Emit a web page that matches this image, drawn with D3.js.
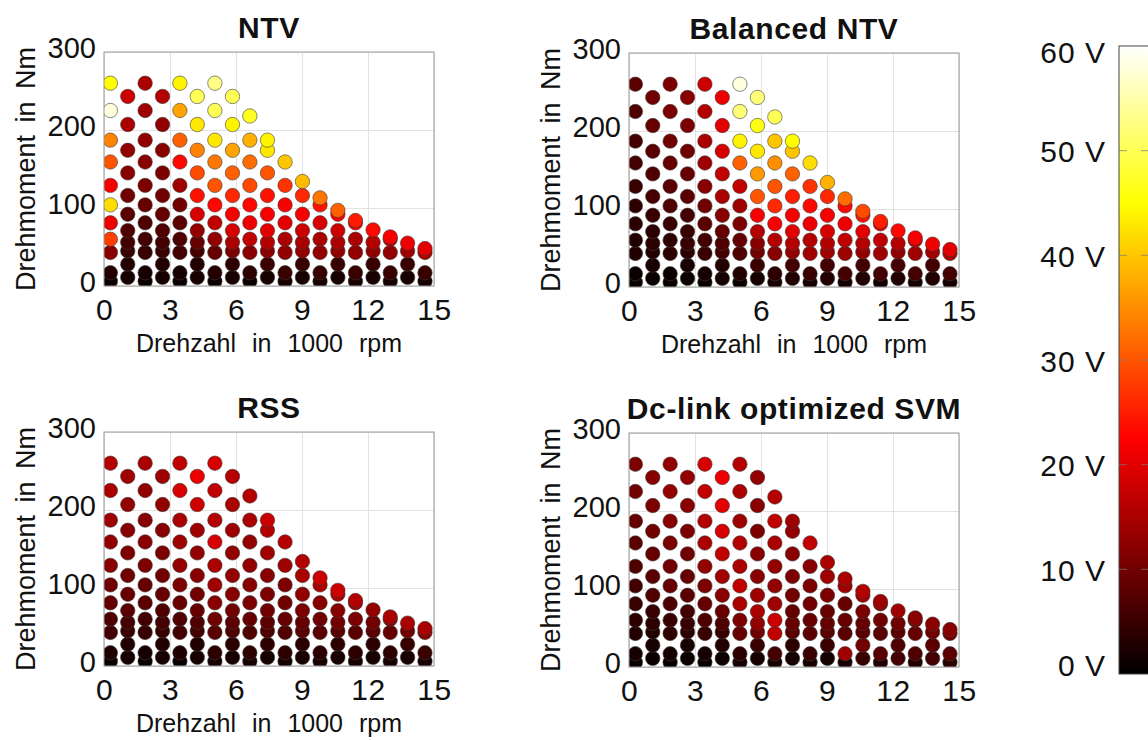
<!DOCTYPE html>
<html>
<head>
<meta charset="utf-8">
<script src="https://cdn.jsdelivr.net/npm/d3@7"></script>
<style>
  body { margin: 0; background: #fff; }
  text { font-family: Arial, "Liberation Sans", sans-serif; fill: #111; }
</style>
</head>
<body>
<svg id="chart"></svg>
<script>
// speed of each column of operating points, in 1000 rpm
let speeds = [0.29, 1.08, 1.87, 2.66, 3.45, 4.24, 5.04, 5.84, 6.63, 7.43,
              8.23, 9.02, 9.82, 10.63, 11.43, 12.23, 13.01, 13.8, 14.59];

// torque of the points in each column (Nm), bottom to top
let torques = [
    [6, 17, 43, 60, 81, 104, 129, 159, 187, 225, 260],
    [11, 28, 45, 56, 71, 92, 116, 145, 174, 207, 243],
    [6, 17, 43, 60, 81, 104, 129, 159, 187, 225, 260],
    [11, 28, 45, 56, 71, 92, 116, 145, 174, 207, 243],
    [6, 17, 43, 60, 81, 104, 129, 159, 187, 225, 260],
    [11, 28, 45, 56, 71, 92, 116, 145, 174, 207, 243],
    [6, 17, 43, 60, 81, 104, 129, 159, 187, 225, 260],
    [11, 28, 45, 56, 71, 92, 116, 145, 174, 207, 243],
    [6, 17, 43, 60, 81, 104, 129, 159, 187, 218],
    [11, 28, 45, 56, 71, 92, 116, 145, 174, 187],
    [6, 17, 43, 60, 81, 104, 129, 159],
    [11, 28, 45, 56, 71, 92, 116, 134],
    [6, 17, 43, 60, 81, 104, 113],
    [11, 28, 45, 56, 71, 92, 97],
    [6, 17, 43, 60, 81, 84],
    [11, 28, 45, 56, 72],
    [6, 17, 43, 60, 63],
    [11, 28, 45, 55],
    [6, 17, 43, 48]
];

// voltage ripple in V for every point, same layout as torques
let voltNTV = [
    [1, 3, 12, 28, 21, 42, 22, 30, 34, 58, 45],
    [2, 3, 5, 6, 7, 8, 10, 12, 13, 15, 18],
    [1, 2, 5, 6, 7, 9, 11, 12, 13, 14, 15],
    [2, 3, 5, 6, 7, 9, 10, 11, 12, 13, 16],
    [1, 2, 6, 7, 8, 10, 14, 23, 31, 37, 44],
    [2, 3, 6, 9, 13, 19, 24, 29, 34, 43, 50],
    [1, 3, 9, 13, 17, 23, 30, 33, 43, 50, 53],
    [2, 4, 11, 15, 19, 22, 26, 31, 37, 44, 50],
    [1, 4, 12, 17, 21, 23, 29, 32, 38, 47],
    [2, 5, 12, 16, 20, 22, 24, 30, 43, 44],
    [2, 5, 13, 15, 20, 22, 27, 40],
    [2, 5, 13, 15, 18, 22, 26, 39],
    [2, 5, 13, 15, 19, 24, 33],
    [2, 5, 13, 15, 18, 22, 31],
    [2, 5, 13, 15, 22, 25],
    [2, 5, 13, 16, 23],
    [2, 5, 13, 17, 22],
    [2, 5, 14, 21],
    [2, 5, 15, 20]
];

let voltBalanced = [
    [1, 1, 3, 3, 4, 4, 5, 6, 6, 7, 8],
    [1, 2, 3, 4, 4, 5, 6, 7, 8, 9, 10],
    [1, 1, 4, 4, 5, 7, 8, 9, 10, 11, 11],
    [1, 2, 4, 5, 5, 6, 8, 9, 10, 11, 12],
    [1, 2, 5, 6, 8, 10, 12, 14, 15, 16, 18],
    [2, 3, 6, 7, 9, 12, 15, 17, 19, 20, 21],
    [1, 3, 7, 9, 11, 14, 17, 31, 44, 52, 58],
    [2, 5, 10, 12, 16, 22, 30, 36, 43, 46, 52],
    [2, 4, 12, 16, 22, 26, 30, 35, 40, 50],
    [3, 6, 13, 16, 20, 22, 25, 31, 40, 45],
    [2, 5, 14, 16, 21, 23, 27, 42],
    [3, 6, 14, 16, 19, 22, 26, 38],
    [2, 6, 14, 17, 21, 23, 32],
    [3, 6, 13, 16, 20, 24, 29],
    [2, 6, 14, 17, 22, 25],
    [3, 6, 13, 16, 23],
    [2, 6, 14, 18, 22],
    [3, 6, 14, 21],
    [2, 6, 15, 20]
];

let voltRSS = [
    [1, 3, 6, 7, 9, 10, 12, 13, 14, 15, 16],
    [2, 3, 5, 6, 8, 9, 10, 11, 12, 13, 14],
    [1, 2, 5, 6, 8, 9, 11, 12, 12, 13, 15],
    [2, 3, 5, 6, 7, 9, 10, 11, 12, 13, 14],
    [1, 3, 6, 7, 9, 11, 13, 14, 15, 19, 17],
    [2, 3, 6, 7, 9, 10, 12, 13, 14, 18, 21],
    [2, 4, 8, 10, 12, 14, 15, 19, 16, 17, 19],
    [2, 4, 7, 8, 10, 12, 13, 13, 14, 15, 16],
    [2, 4, 7, 9, 11, 12, 13, 13, 15, 16],
    [2, 4, 7, 8, 10, 11, 12, 14, 16, 18],
    [2, 4, 7, 9, 10, 11, 14, 16],
    [2, 4, 8, 9, 11, 13, 15, 16],
    [2, 4, 8, 10, 12, 15, 18],
    [2, 4, 8, 10, 12, 15, 18],
    [2, 4, 8, 11, 14, 16],
    [2, 4, 8, 10, 13],
    [2, 4, 9, 12, 15],
    [2, 5, 10, 15],
    [2, 5, 12, 15]
];

let voltSVM = [
    [1, 2, 3, 4, 5, 6, 7, 8, 9, 10, 11],
    [1, 2, 3, 4, 5, 7, 8, 9, 10, 11, 12],
    [1, 2, 4, 5, 7, 9, 10, 11, 12, 13, 13],
    [1, 2, 4, 5, 6, 8, 9, 10, 11, 12, 13],
    [1, 2, 5, 7, 9, 11, 13, 15, 16, 17, 19],
    [1, 3, 5, 7, 9, 12, 14, 17, 19, 20, 21],
    [2, 4, 9, 11, 15, 17, 15, 16, 14, 15, 16],
    [2, 5, 10, 13, 15, 14, 12, 12, 11, 12, 13],
    [2, 6, 17, 18, 14, 13, 13, 15, 17, 16],
    [2, 4, 8, 9, 9, 10, 11, 12, 13, 14],
    [2, 5, 8, 9, 10, 11, 12, 17],
    [2, 5, 8, 9, 9, 11, 14, 15],
    [2, 14, 8, 9, 9, 14, 15],
    [5, 10, 8, 9, 11, 14, 16],
    [3, 8, 8, 10, 13, 14],
    [6, 7, 8, 10, 14],
    [3, 7, 9, 11, 12],
    [6, 8, 10, 12],
    [4, 8, 10, 12]
];

let titles = ["NTV", "Balanced NTV", "RSS", "Dc-link optimized SVM"];
let xTicks = [0, 3, 6, 9, 12, 15];
let yTicks = [0, 100, 200, 300];
let cbTicks = [0, 10, 20, 30, 40, 50, 60];

let w = 1148, h = 740;
let pw = 330, ph = 234, r = 7.2;

let svg = d3.select('#chart')
    .attr('width', w)
    .attr('height', h);

// MATLAB "hot" colormap
let color = d3.scaleLinear()
    .domain([0, 22.5, 45, 60])
    .range(["#000000", "#ff0000", "#ffff00", "#ffffff"])
    .clamp(true);

let panels = [
    {title: titles[0], volts: voltNTV, left: 104, top: 52, xlabel: true},
    {title: titles[1], volts: voltBalanced, left: 629, top: 53, xlabel: true},
    {title: titles[2], volts: voltRSS, left: 104, top: 432, xlabel: true},
    {title: titles[3], volts: voltSVM, left: 629, top: 433, xlabel: false}
];

let xScale = d3.scaleLinear().domain([0, 15]).range([0, pw]);
let yScale = d3.scaleLinear().domain([0, 300]).range([ph, 0]);

panels.forEach((p, k) => {
    let g = svg.append('g')
        .attr('transform', `translate(${p.left}, ${p.top})`);

    // grid
    g.append('g')
        .attr('transform', `translate(0, ${ph})`)
        .call(d3.axisBottom(xScale).tickValues(xTicks).tickSize(-ph).tickFormat(''))
        .call(a => a.select('.domain').remove())
        .selectAll('line').attr('stroke', '#e2e2e2');
    g.append('g')
        .call(d3.axisLeft(yScale).tickValues(yTicks).tickSize(-pw).tickFormat(''))
        .call(a => a.select('.domain').remove())
        .selectAll('line').attr('stroke', '#e2e2e2');

    g.append('clipPath')
        .attr('id', 'clip' + k)
        .append('rect')
        .attr('width', pw)
        .attr('height', ph);

    let points = [];
    speeds.forEach((s, i) => {
        torques[i].forEach((t, j) => {
            points.push({speed: s, torque: t, volt: p.volts[i][j]});
        });
    });

    g.append('g')
        .attr('clip-path', `url(#clip${k})`)
        .selectAll('circle')
        .data(points)
        .join('circle')
        .attr('cx', d => xScale(d.speed))
        .attr('cy', d => yScale(d.torque))
        .attr('r', r)
        .attr('fill', d => color(d.volt))
        .attr('stroke', '#3a3a3a')
        .attr('stroke-opacity', 0.75)
        .attr('stroke-width', 0.8);

    // axes box
    g.append('rect')
        .attr('width', pw)
        .attr('height', ph)
        .attr('fill', 'none')
        .attr('stroke', '#9a9a9a');

    // tick labels
    let xAxisGroup = g.append('g')
        .attr('transform', `translate(0, ${ph})`)
        .call(d3.axisBottom(xScale).tickValues(xTicks).tickSize(0).tickPadding(13));
    xAxisGroup.select('.domain').remove();
    xAxisGroup.selectAll('text')
        .attr('font-size', 30)
        .attr('letter-spacing', 0.5)
        .attr('font-family', 'Arial, "Liberation Sans", sans-serif')
        .attr('fill', '#111');

    let yAxisGroup = g.append('g')
        .call(d3.axisLeft(yScale).tickValues(yTicks).tickSize(0).tickPadding(8));
    yAxisGroup.select('.domain').remove();
    yAxisGroup.selectAll('text')
        .attr('font-size', 29)
        .attr('dy', '0.2em')
        .attr('font-family', 'Arial, "Liberation Sans", sans-serif')
        .attr('fill', '#111');

    g.append('text')
        .attr('x', pw / 2)
        .attr('y', -14)
        .attr('text-anchor', 'middle')
        .attr('font-size', 30)
        .attr('letter-spacing', 0.6)
        .attr('font-weight', 'bold')
        .text(p.title);

    g.append('text')
        .attr('transform', `translate(-69, ${ph / 2}) rotate(-90)`)
        .attr('text-anchor', 'middle')
        .attr('font-size', 27)
        .attr('word-spacing', 5)
        .text('Drehmoment in Nm');

    if (p.xlabel) {
        g.append('text')
            .attr('x', pw / 2)
            .attr('y', ph + 66)
            .attr('text-anchor', 'middle')
            .attr('font-size', 25)
            .attr('word-spacing', 9)
            .text('Drehzahl in 1000 rpm');
    }
});

// colorbar
let cbLeft = 1119, cbWidth = 30;
let cScale = d3.scaleLinear().domain([0, 60]).range([674, 46]);

let grad = svg.append('defs')
    .append('linearGradient')
    .attr('id', 'hot')
    .attr('x1', 0).attr('y1', 1)
    .attr('x2', 0).attr('y2', 0);
grad.selectAll('stop')
    .data(color.domain())
    .join('stop')
    .attr('offset', d => d / 60)
    .attr('stop-color', d => color(d));

svg.append('rect')
    .attr('x', cbLeft)
    .attr('y', cScale(60))
    .attr('width', cbWidth)
    .attr('height', cScale(0) - cScale(60))
    .attr('fill', 'url(#hot)')
    .attr('stroke', '#444')
    .attr('stroke-width', 1);

svg.append('g')
    .selectAll('line')
    .data(cbTicks.slice(1, -1))
    .join('line')
    .attr('x1', cbLeft).attr('x2', cbLeft + 8)
    .attr('y1', d => cScale(d)).attr('y2', d => cScale(d))
    .attr('stroke', '#777')
    .attr('stroke-opacity', 0.7);

svg.append('g')
    .selectAll('line')
    .data(cbTicks.slice(1, -1))
    .join('line')
    .attr('x1', cbLeft + cbWidth - 8).attr('x2', cbLeft + cbWidth)
    .attr('y1', d => cScale(d)).attr('y2', d => cScale(d))
    .attr('stroke', '#777')
    .attr('stroke-opacity', 0.7);

svg.append('g')
    .selectAll('text')
    .data(cbTicks)
    .join('text')
    .attr('x', cbLeft - 13)
    .attr('y', d => cScale(d) + (d === 60 ? 6 : d === 0 ? -9 : 1))
    .attr('dy', '0.35em')
    .attr('text-anchor', 'end')
    .attr('font-size', 30)
    .attr('letter-spacing', 1)
    .text(d => d + ' V');
</script>
</body>
</html>
